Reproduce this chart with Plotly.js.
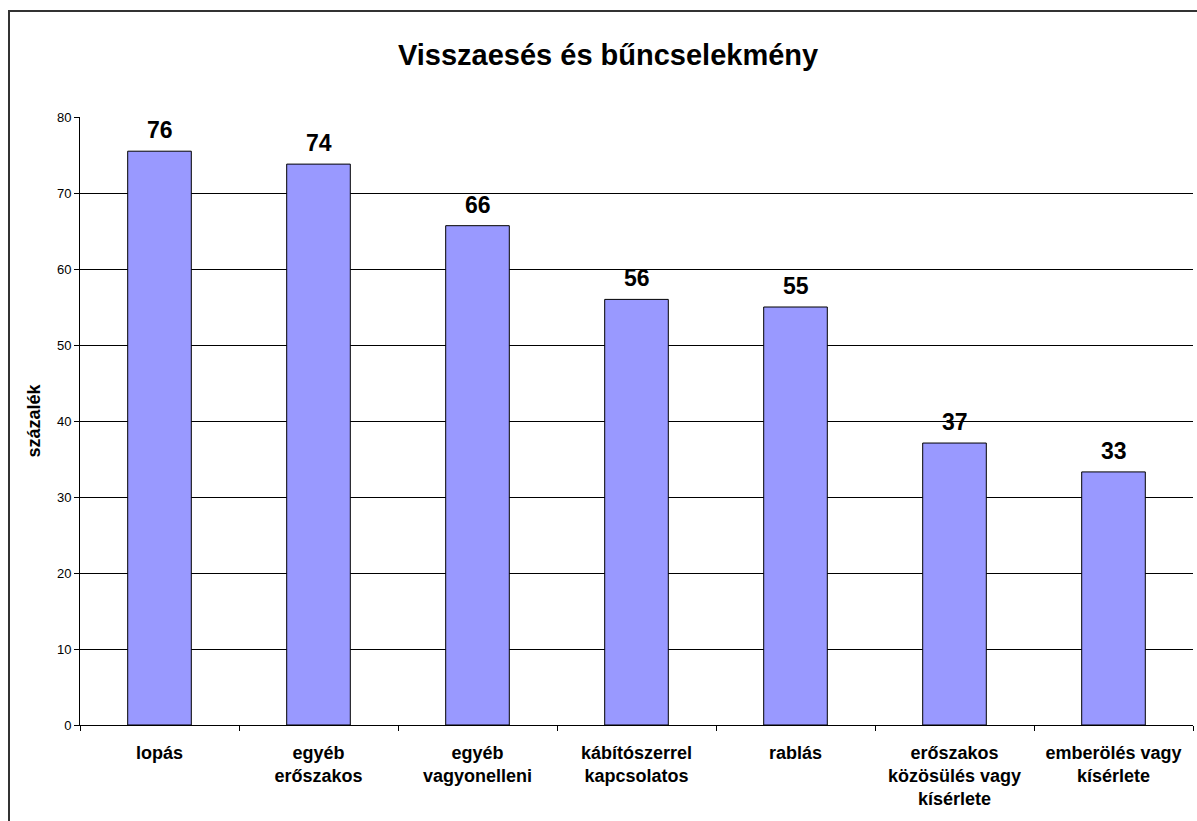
<!DOCTYPE html>
<html>
<head>
<meta charset="utf-8">
<script src="https://cdn.plot.ly/plotly-3.0.1.min.js"></script>
<style>
  html, body { margin: 0; padding: 0; background: #fff; }
  #wrap { position: relative; width: 1197px; height: 821px; overflow: hidden; }
  #chart { position: absolute; left: 0; top: 0; width: 1197px; height: 821px; }
  #frame { position: absolute; left: 8px; top: 10px; width: 1300px; height: 900px;
           border-left: 2px solid #333; border-top: 2px solid #333; pointer-events: none; }
</style>
</head>
<body>
<div id="wrap">
  <div id="chart"></div>
  <div id="frame"></div>
</div>
<script>
const categories = [
  "lopás",
  "egyéb<br>erőszakos",
  "egyéb<br>vagyonelleni",
  "kábítószerrel<br>kapcsolatos",
  "rablás",
  "erőszakos<br>közösülés vagy<br>kísérlete",
  "emberölés vagy<br>kísérlete"
];
const values = [75.5, 73.8, 65.7, 56.0, 55.0, 37.1, 33.3];
const yTicks = [0, 10, 20, 30, 40, 50, 60, 70, 80];

const FONT = "Liberation Sans, Arial, sans-serif";

const trace = {
  type: "bar",
  x: categories,
  y: values,
  marker: { color: "#9999ff", line: { color: "#000", width: 1 } },
  hoverinfo: "skip"
};

const annotations = categories.map((c, i) => ({
  x: c, y: values[i], xref: "x", yref: "y",
  text: "<b>" + Math.round(values[i]) + "</b>",
  showarrow: false, yanchor: "bottom", yshift: 6,
  font: { family: FONT, size: 23, color: "#000" }
}));

const layout = {
  width: 1197, height: 821,
  margin: { l: 80, r: 4, t: 117, b: 96 },
  paper_bgcolor: "#fff", plot_bgcolor: "#fff",
  showlegend: false,
  bargap: 0.6,
  title: {
    text: "<b>Visszaesés és bűncselekmény</b>",
    x: 0.508, xref: "container", xanchor: "center",
    y: 0.933, yref: "container", yanchor: "middle",
    font: { family: FONT, size: 29, color: "#000" }
  },
  xaxis: {
    type: "category",
    tickson: "boundaries",
    ticks: "outside", ticklen: 5, tickcolor: "#000", tickwidth: 1,
    showline: true, linecolor: "#000", linewidth: 1,
    showgrid: false,
    tickfont: { family: FONT, size: 18, color: "#000", weight: "bold" },
    ticklabelstandoff: 11,
    tickangle: 0,
    automargin: false
  },
  yaxis: {
    range: [0, 80],
    tickvals: yTicks,
    ticktext: yTicks.map(String),
    ticks: "outside", ticklen: 5, tickcolor: "#000", tickwidth: 1,
    showline: true, linecolor: "#000", linewidth: 1,
    showgrid: true, gridcolor: "#000", gridwidth: 1,
    zeroline: false,
    tickfont: { family: FONT, size: 13, color: "#000" },
    title: { text: "<b>százalék</b>", font: { family: FONT, size: 18, color: "#000" }, standoff: 11 },
    automargin: false
  },
  annotations: annotations
};

Plotly.newPlot("chart", [trace], layout, { staticPlot: true, displayModeBar: false });
</script>
</body>
</html>
